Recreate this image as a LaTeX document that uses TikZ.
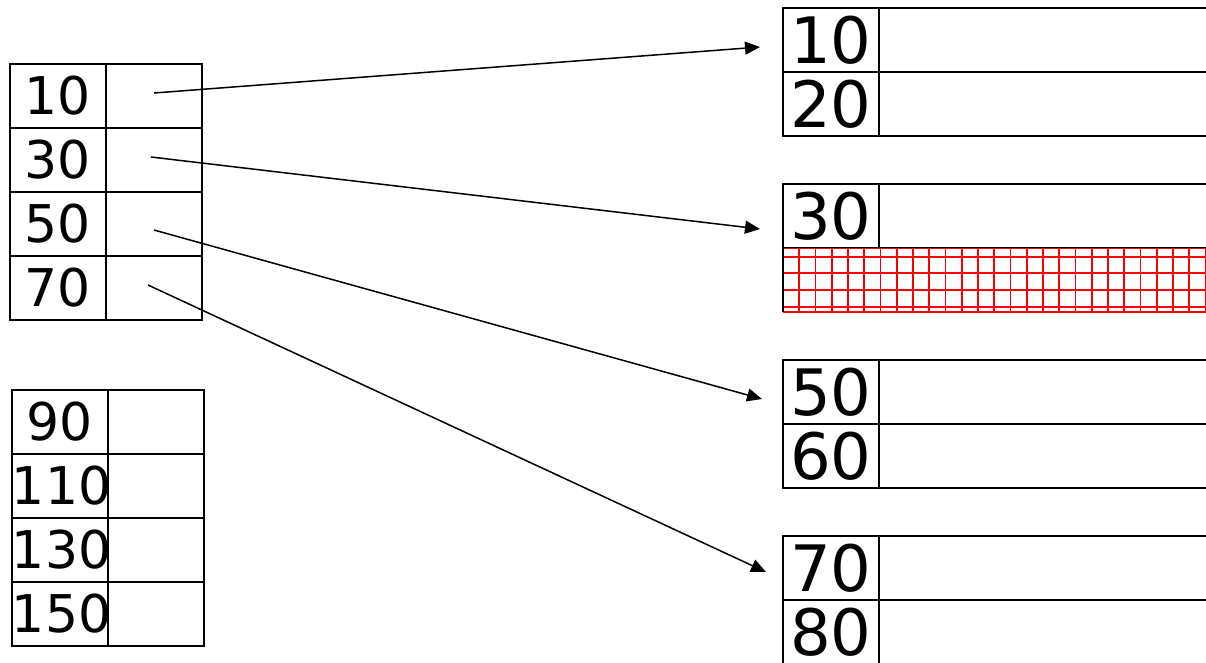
\documentclass[tikz,border=0pt]{standalone}
\usepackage{fontspec}
\setmainfont{DejaVu Sans}
\usetikzlibrary{positioning,arrows.meta}

\begin{document}
\begin{tikzpicture}[x=1pt, y=-1pt,
  font=\fontsize{52}{52}\selectfont,
  cell/.style={draw, line width=1.5pt, outer sep=0pt, inner sep=0pt, minimum height=64pt},
  key/.style={cell, minimum width=96pt, text width=96pt, align=center},
  ptr/.style={cell, minimum width=96pt},
  bkey/.style={key, font=\fontsize{64}{64}\selectfont},
  rec/.style={cell, minimum width=341pt},
  link/.style={->, line width=1.5pt},
  mesh/.style={red, line width=1.6pt},
  >={Triangle[length=15pt,width=13pt]}]
\useasboundingbox (0,0) rectangle (1206,662);
% index page (top left)
\node[key, anchor=north west] (k10) at (10,64) {10};
\node[ptr, right=0pt of k10] (p10) {};
\node[key, below=0pt of k10] (k30) {30};
\node[ptr, right=0pt of k30] (p30) {};
\node[key, below=0pt of k30] (k50) {50};
\node[ptr, right=0pt of k50] (p50) {};
\node[key, below=0pt of k50] (k70) {70};
\node[ptr, right=0pt of k70] (p70) {};
% index page (bottom left)
\node[key, anchor=north west] (k90) at (12,390) {90};
\node[ptr, right=0pt of k90] (p90) {};
\node[key, below=0pt of k90] (k110) {110};
\node[ptr, right=0pt of k110] (p110) {};
\node[key, below=0pt of k110] (k130) {130};
\node[ptr, right=0pt of k130] (p130) {};
\node[key, below=0pt of k130] (k150) {150};
\node[ptr, right=0pt of k150] (p150) {};
% data pages (right)
\node[bkey, anchor=north west] (a10) at (783,8) {10};
\node[rec, right=0pt of a10] (r10) {};
\node[bkey, below=0pt of a10] (a20) {20};
\node[rec, right=0pt of a20] (r20) {};
\node[bkey, anchor=north west] (a30) at (783,184) {30};
\node[rec, right=0pt of a30] (r30) {};
\node[anchor=north west, inner sep=0pt, outer sep=0pt, minimum width=437pt,
  minimum height=64pt] (free) at (a30.south west) {};
\node[bkey, anchor=north west] (a50) at (783,360) {50};
\node[rec, right=0pt of a50] (r50) {};
\node[bkey, below=0pt of a50] (a60) {60};
\node[rec, right=0pt of a60] (r60) {};
\node[bkey, anchor=north west] (a70) at (783,536) {70};
\node[rec, right=0pt of a70] (r70) {};
\node[bkey, below=0pt of a70] (a80) {80};
\node[rec, right=0pt of a80] (r80) {};
% free space in the second page
\begin{scope}
  \clip (free.north west) rectangle (free.south east);
  \draw[mesh] (free.north west) rectangle (free.south east);
  \foreach \i in {1,...,26}
    \draw[mesh] ([xshift=\i*16pt+\i*0.25pt]free.north west) -- ([xshift=\i*16pt+\i*0.25pt]free.south west);
  \foreach \d in {9,25,42,59}
    \draw[mesh] ([yshift=-\d pt]free.north west) -- ([yshift=-\d pt]free.north east);
\end{scope}
\draw[line width=1.5pt] (free.north west) -- (free.south west);
% pointers
\draw[link] ([shift={(0,-3)}]p10.center) -- ([shift={(-23,7)}]a10.west);
\draw[link] ([shift={(-3,-3)}]p30.center) -- ([shift={(-23,13)}]a30.west);
\draw[link] ([shift={(0,6)}]p50.center) -- ([shift={(-21,7)}]a50.west);
\draw[link] ([shift={(-6,-3)}]p70.center) -- ([shift={(-17,4)}]a70.west);
\end{tikzpicture}
\end{document}
